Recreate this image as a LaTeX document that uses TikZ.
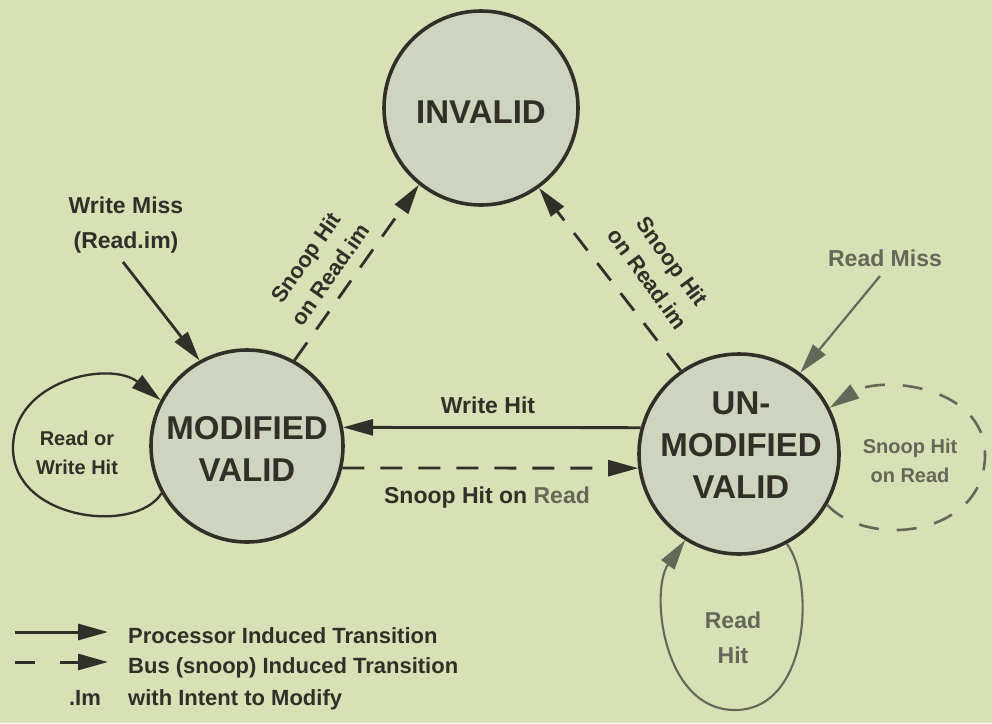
\documentclass[tikz,border=0pt]{standalone}
\usepackage{fontspec}
\setmainfont{Liberation Sans}
\usetikzlibrary{arrows.meta}
\definecolor{paper}{RGB}{216,224,182}
\definecolor{disc}{RGB}{206,213,190}
\definecolor{ink}{RGB}{48,48,40}
\definecolor{faded}{RGB}{100,104,88}

\begin{document}
\begin{tikzpicture}[x=1pt,y=-1pt,
  state/.style={circle, draw=ink, line width=3.6pt, fill=disc, inner sep=0pt},
  statetext/.style={text=ink, align=center, inner sep=0pt,
    font=\fontsize{33}{42}\selectfont\bfseries},
  lbl/.style={text=ink, align=center, inner sep=0pt,
    font=\fontsize{23}{35}\selectfont\bfseries},
  small/.style={font=\fontsize{20}{29}\selectfont\bfseries},
  mid/.style={font=\fontsize{22}{30}\selectfont\bfseries},
  tip/.style={-{Triangle[length=30pt,width=16pt]}},
  proc/.style={tip, draw=ink, line width=2.8pt},
  snoop/.style={tip, draw=ink, line width=2.8pt, dash pattern=on 22pt off 16pt},
  loopline/.style={tip, draw=ink, line width=2.3pt},
]
\fill[paper] (0,0) rectangle (992,723);
\useasboundingbox (0,0) rectangle (992,723);

% states
\node[state, minimum size=194pt] (I) at (481,108) {};
\node[state, minimum size=192pt] (M) at (247,446) {};
\node[state, minimum size=200pt] (U) at (739,454) {};
\node[statetext] (It) at (481,112) {INVALID};
\node[statetext] (Mt) at (247,449) {MODIFIED\\VALID};
\node[statetext] (Ut) at (741,445) {UN-\\MODIFIED\\VALID};

% processor induced transitions
\coordinate (wm) at (123,262);
\draw[proc] (wm) -- (M.119);
\coordinate (rm) at (880,276);
\draw[proc, draw=faded, line width=2.2pt] (rm) -- (U.53);
\draw[proc] (U.165) -- (M.11);

% bus (snoop) induced transitions
\draw[snoop] (M.-13) -- (U.188);
\draw[snoop] (M.61) -- (I.231);
\draw[snoop] (U.125) -- (I.-54);

% self loops
\draw[loopline] (M.209) .. controls (135,535) and (13,520) .. (13,448)
  .. controls (13,380) and (110,360) .. (M.152);
\draw[loopline, draw=faded, line width=2.1pt] (U.-62) .. controls (815,580) and (810,710) .. (735,710)
  .. controls (662,710) and (650,590) .. (U.238);
\draw[loopline, draw=faded, line width=2.6pt, dash pattern=on 20pt off 18pt]
  (U.-30) .. controls (870,550) and (985,535) .. (985,455)
  .. controls (985,385) and (880,375) .. (U.27);

% transition labels
\node[lbl] (wmL) at (126,225) {Write Miss\\(Read.im)};
\node[lbl, text=faded, anchor=base] (rmL) at (885,266) {Read Miss};
\node[lbl, anchor=base] (whL) at (488,413) {Write Hit};
\node[lbl, anchor=base] (shrL) at (487,503) {Snoop Hit on {\color{faded}Read}};
\node[lbl, small] (rwL) at (77,453) {Read or\\Write Hit};
\node[lbl, small, text=faded] (slL) at (910,461) {Snoop Hit\\on Read};
\node[lbl, text=faded] (rhL) at (733,638) {Read\\Hit};
\node[lbl, mid, rotate=55] (simL) at (318,266) {Snoop Hit\\on Read.im};
\node[lbl, mid, rotate=-54] (simR) at (660,270) {Snoop Hit\\on Read.im};

% legend
\coordinate (p0) at (15,632);
\coordinate (p1) at (108,632);
\draw[proc, line width=3pt] (p0) -- (p1);
\coordinate (b0) at (15,662);
\coordinate (b1) at (108,662);
\draw[proc, line width=3pt, dash pattern=on 20pt off 25pt on 200pt off 0pt] (b0) -- (b1);
\node[lbl, mid, anchor=base west] (pL) at (128,643) {Processor Induced Transition};
\node[lbl, mid, anchor=base west] (bL) at (128,673) {Bus (snoop) Induced Transition};
\node[lbl, mid, anchor=base] (imK) at (85,705) {.Im};
\node[lbl, mid, anchor=base west] (imL) at (128,705) {with Intent to Modify};
\end{tikzpicture}
\end{document}
